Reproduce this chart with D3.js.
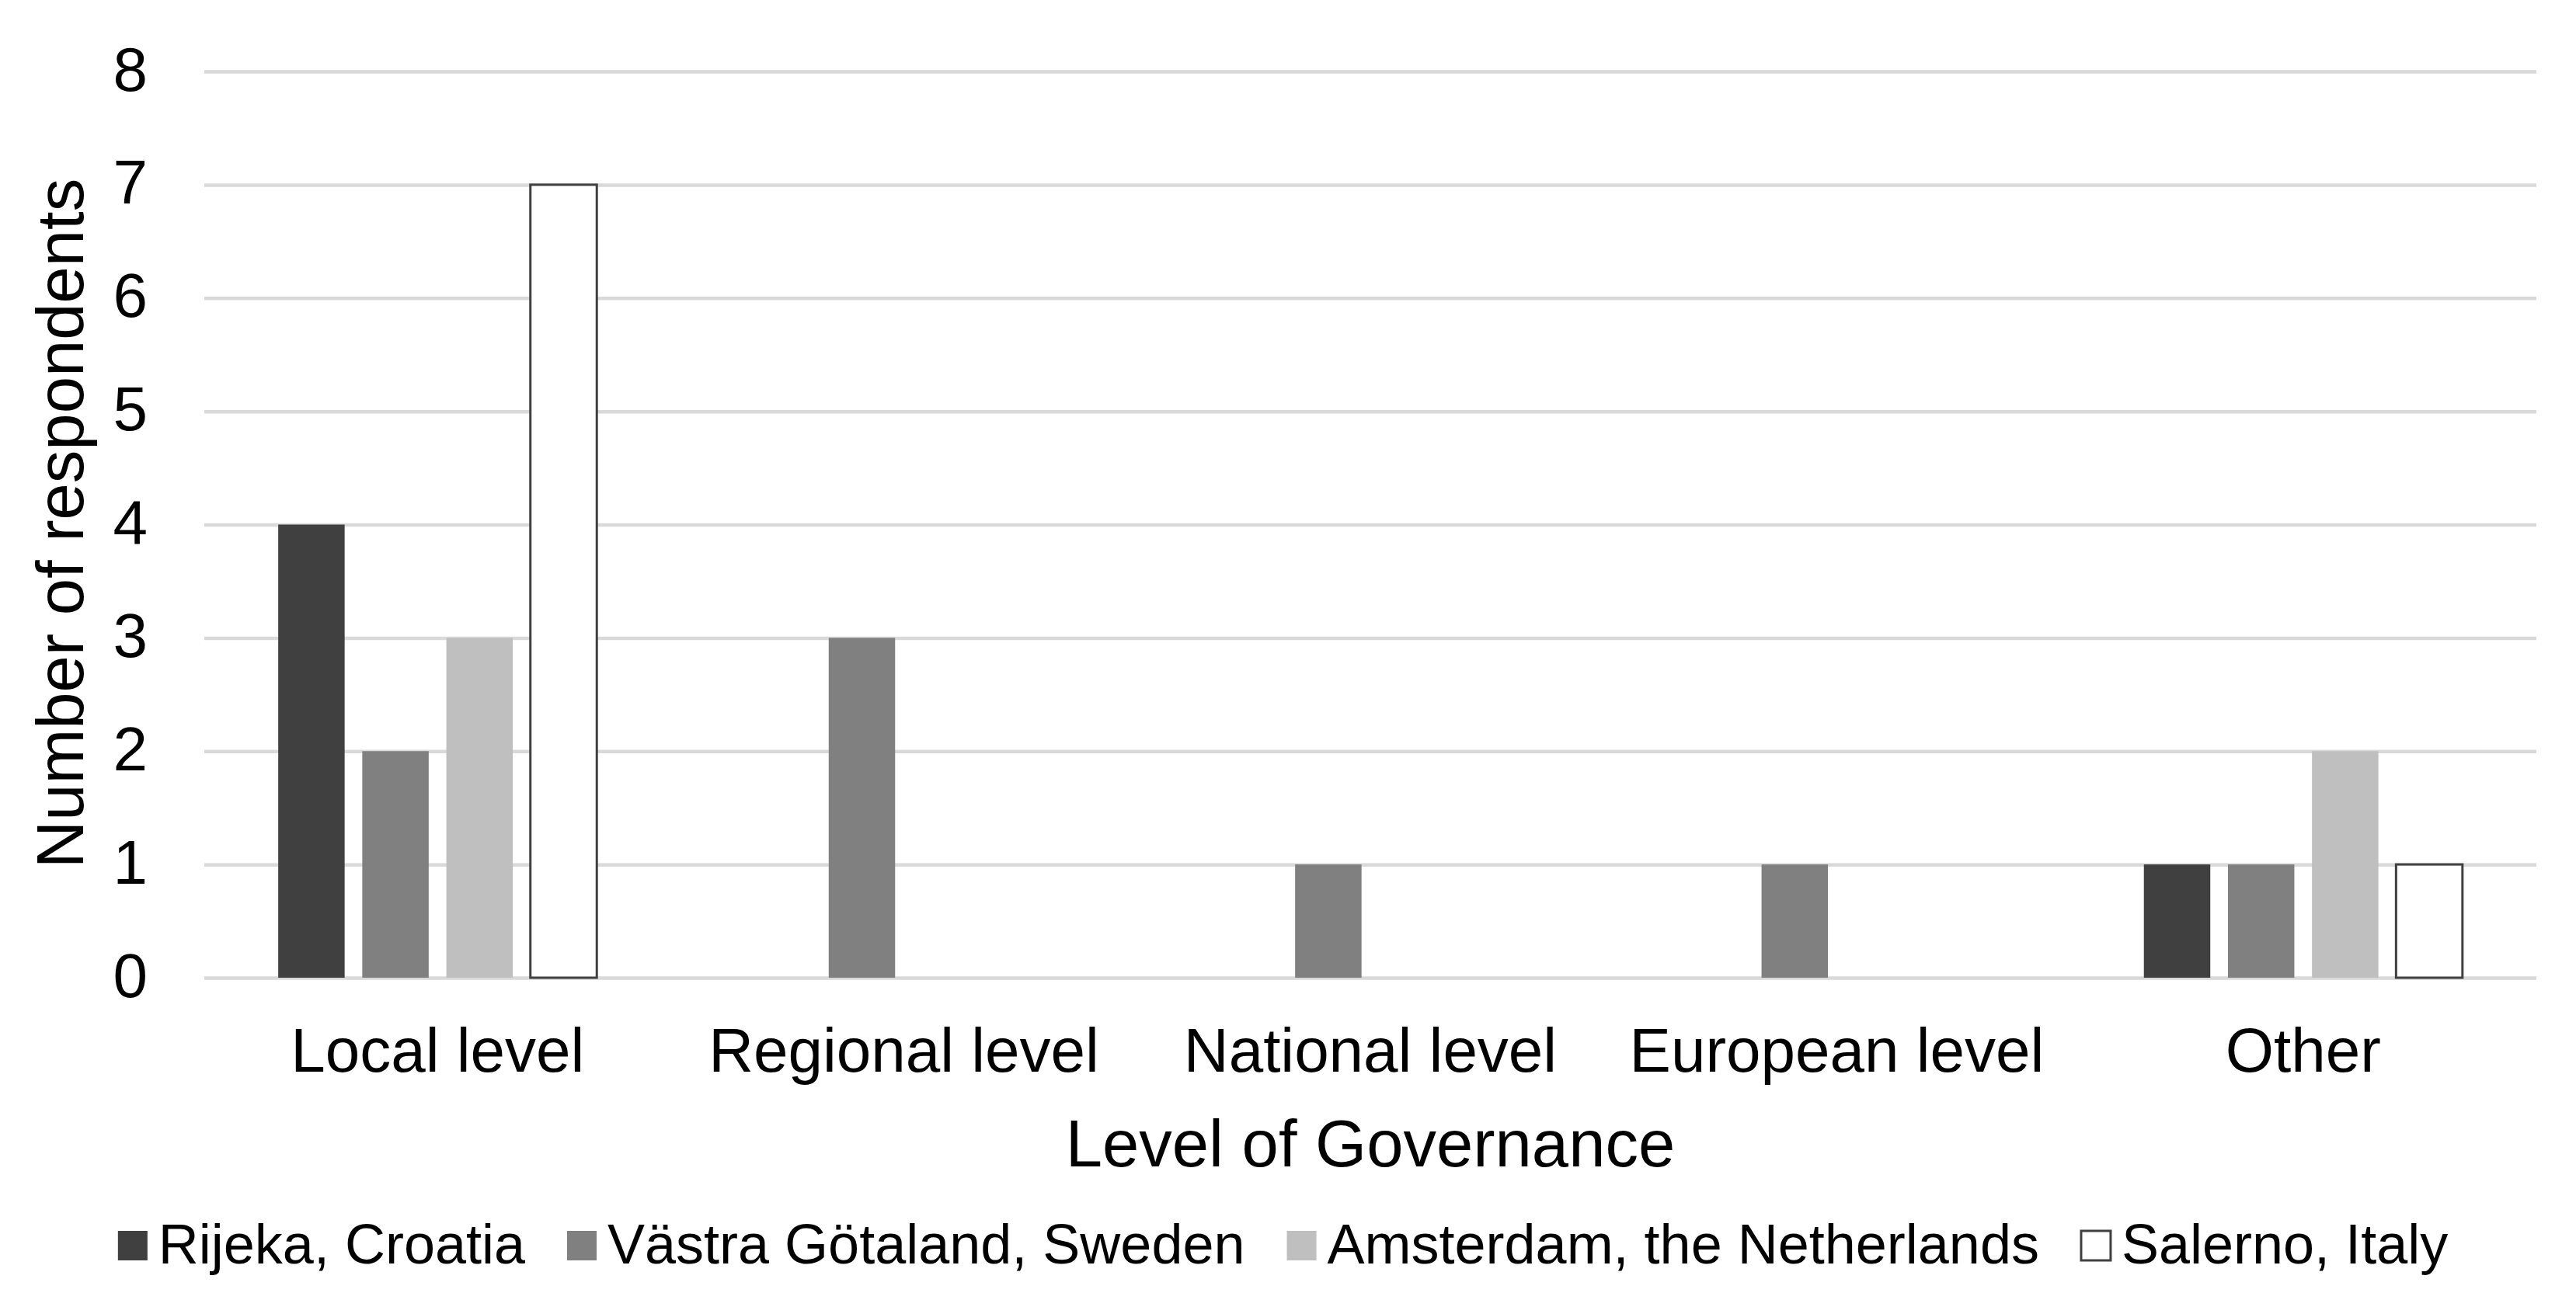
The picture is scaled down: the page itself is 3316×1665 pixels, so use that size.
<!DOCTYPE html>
<html>
<head>
<meta charset="utf-8">
<script src="https://cdn.jsdelivr.net/npm/d3@7"></script>
<style>
  body { margin: 0; background: #fff; }
  text { font-family: "Liberation Sans", Arial, sans-serif; fill: #000; }
</style>
</head>
<body>
<svg id="chart"></svg>
<script>
// data
const categories = ["Local level", "Regional level", "National level", "European level", "Other"];
const seriesNames = ["Rijeka, Croatia", "Västra Götaland, Sweden", "Amsterdam, the Netherlands", "Salerno, Italy"];
const rijeka = [4, 0, 0, 0, 1];
const vastraGotaland = [2, 3, 1, 1, 1];
const amsterdam = [3, 0, 0, 0, 2];
const salerno = [7, 0, 0, 0, 1];
const yTicks = [0, 1, 2, 3, 4, 5, 6, 7, 8];

const seriesValues = [rijeka, vastraGotaland, amsterdam, salerno];
const fills = ["#404040", "#808080", "#bfbfbf", "#ffffff"];
const strokes = [null, null, null, "#404040"];

const [W, H] = [3316, 1665];
const plot = { left: 263, right: 3265, top: 92, bottom: 1259 };

const svg = d3.select("#chart")
    .attr("width", W)
    .attr("height", H);

const x0 = d3.scaleBand()
    .domain(categories)
    .range([plot.left, plot.right])
    .paddingInner(0.317)
    .paddingOuter(0.1585);

const x1 = d3.scaleBand()
    .domain(seriesNames)
    .range([0, x0.bandwidth()])
    .paddingInner(0.21);

const y = d3.scaleLinear()
    .domain([0, 8])
    .range([plot.bottom, plot.top]);

// gridlines
const yAxis = d3.axisLeft(y)
    .tickValues(yTicks)
    .tickSize(-(plot.right - plot.left))
    .tickPadding(73)
    .tickFormat(d3.format("d"));

const gy = svg.append("g")
    .attr("transform", `translate(${plot.left},0)`)
    .call(yAxis);
gy.select(".domain").remove();
gy.selectAll(".tick line")
    .attr("stroke", "#d9d9d9")
    .attr("stroke-width", 4.5);
gy.selectAll(".tick text")
    .attr("font-size", 80)
    .attr("dy", "0.3em")
    .attr("dx", 0)
    .style("fill", "#000");

// bars
const rows = categories.map((c, i) => ({
    category: c,
    values: seriesNames.map((s, j) => ({ series: s, idx: j, value: seriesValues[j][i] }))
}));

svg.append("g")
    .selectAll("g")
    .data(rows)
    .join("g")
    .attr("transform", d => `translate(${x0(d.category)},0)`)
    .selectAll("rect")
    .data(d => d.values.filter(v => v.value > 0))
    .join("rect")
    .attr("x", d => x1(d.series))
    .attr("y", d => y(d.value))
    .attr("width", x1.bandwidth())
    .attr("height", d => y(0) - y(d.value))
    .attr("fill", d => fills[d.idx])
    .attr("stroke", d => strokes[d.idx] || "none")
    .attr("stroke-width", 3);

// x axis labels
const xAxis = d3.axisBottom(x0).tickSize(0).tickPadding(0);
const gx = svg.append("g")
    .attr("transform", `translate(0,${plot.bottom})`)
    .call(xAxis);
gx.select(".domain").remove();
gx.selectAll(".tick text")
    .attr("font-size", 80)
    .attr("y", 121)
    .attr("dy", 0)
    .style("fill", "#000");

// axis titles
svg.append("text")
    .attr("x", (plot.left + plot.right) / 2)
    .attr("y", 1502)
    .attr("text-anchor", "middle")
    .attr("font-size", 85)
    .text("Level of Governance");

svg.append("text")
    .attr("transform", `translate(107,674) rotate(-90)`)
    .attr("text-anchor", "middle")
    .attr("font-size", 85)
    .text("Number of respondents");

// legend
const legend = svg.append("g");
const items = legend.selectAll("g")
    .data(seriesNames)
    .join("g");

items.append("rect")
    .attr("x", 0)
    .attr("y", 1585)
    .attr("width", 38)
    .attr("height", 38)
    .attr("fill", (d, i) => fills[i])
    .attr("stroke", (d, i) => strokes[i] || "none")
    .attr("stroke-width", 3);

items.append("text")
    .attr("x", 52)
    .attr("y", 1627)
    .attr("font-size", 72)
    .text(d => d);

let offset = 0;
items.each(function () {
    const w = d3.select(this).select("text").node().getComputedTextLength();
    d3.select(this).attr("transform", `translate(${offset},0)`);
    offset += 52 + w + 54;
});
const total = offset - 54;
legend.attr("transform", `translate(${1651.5 - total / 2},0)`);
</script>
</body>
</html>
